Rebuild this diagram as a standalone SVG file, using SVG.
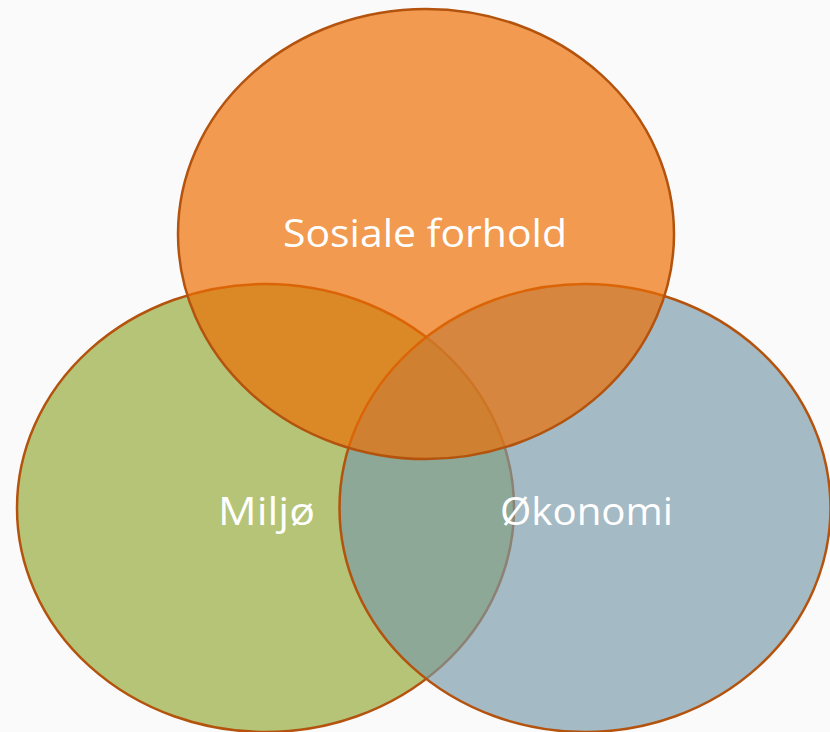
<svg xmlns="http://www.w3.org/2000/svg" width="830" height="732" viewBox="0 0 830 732">
  <style>
    .c { stroke: #B4530E; stroke-width: 2.5; }
    .lbl { font-family: "Open Sans", "Liberation Sans", sans-serif; font-size: 38px; fill: #FFFFFF; text-anchor: middle; }
  </style>
  <rect width="830" height="732" fill="#FAFAFA"/>
  <g id="miljo">
    <ellipse class="c" cx="265.5" cy="508" rx="248.5" ry="224" fill="#B5C477"/>
  </g>
  <g id="okonomi">
    <ellipse class="c" cx="585" cy="508" rx="245.5" ry="224" fill="rgb(120,153,169)" fill-opacity="0.66"/>
  </g>
  <g id="sosiale">
    <ellipse class="c" cx="426" cy="234" rx="248" ry="225" fill="rgb(236,110,3)" fill-opacity="0.69"/>
  </g>
  <g id="labels">
    <text class="lbl" x="425" y="247" textLength="284" lengthAdjust="spacingAndGlyphs">Sosiale forhold</text>
    <text class="lbl" x="266.5" y="525" textLength="97" lengthAdjust="spacingAndGlyphs">Miljø</text>
    <text class="lbl" x="586.5" y="525" textLength="173" lengthAdjust="spacingAndGlyphs">Økonomi</text>
  </g>
</svg>
